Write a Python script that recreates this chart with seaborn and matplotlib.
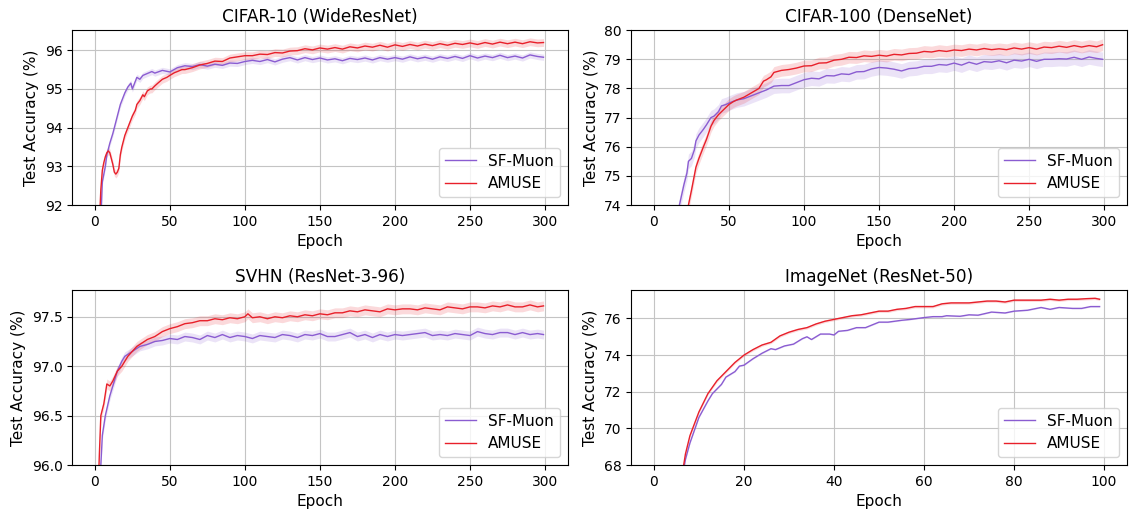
import numpy as np
import pandas as pd
import matplotlib
matplotlib.use("Agg")
import matplotlib.pyplot as plt
import seaborn as sns

# ---------------- data ----------------
# CIFAR-10 (WideResNet)
c10_sf_ep = [2, 4, 5, 7, 8, 10, 12, 13, 15, 17, 18, 20, 22, 23, 24, 25, 26, 27, 28, 30, 32, 35, 38, 40,
             45, 50, 55, 60, 65, 70, 75, 80, 85, 90, 95, 100, 105, 110, 115, 120, 125, 130, 135, 140, 145,
             150, 155, 160, 165, 170, 175, 180, 185, 190, 195, 200, 205, 210, 215, 220, 225, 230, 235, 240,
             245, 250, 255, 260, 265, 270, 275, 280, 285, 290, 295, 299]
c10_sf = [88.0, 91.6, 92.6, 93.0, 93.3, 93.6, 93.85, 94.0, 94.3, 94.6, 94.7, 94.9, 95.05, 95.1, 95.15, 95.0, 95.1, 95.2, 95.3, 95.25, 95.35, 95.4, 95.45, 95.41,
          95.48, 95.44, 95.55, 95.6, 95.58, 95.63, 95.59, 95.64, 95.61, 95.67, 95.66, 95.71, 95.74, 95.71, 95.76, 95.7, 95.77, 95.81, 95.75, 95.81, 95.76,
          95.8, 95.75, 95.78, 95.73, 95.79, 95.76, 95.8, 95.75, 95.81, 95.77, 95.81, 95.77, 95.83, 95.78, 95.82, 95.77, 95.83, 95.79, 95.84,
          95.79, 95.86, 95.8, 95.85, 95.81, 95.87, 95.81, 95.85, 95.8, 95.88, 95.84, 95.82]
c10_sf_sd = 0.08

c10_am_ep = [2, 3, 4, 5, 6, 7, 8, 9, 10, 11, 12, 13, 14, 15, 16, 17, 18, 20, 22, 23, 25, 27, 28, 30, 32, 33, 35, 37, 38, 40,
             42, 45, 48, 50, 53, 55, 58, 60, 65, 70, 75, 80, 85, 90, 95, 100, 105, 110, 115, 120, 125, 130, 135, 140, 145,
             150, 155, 160, 165, 170, 175, 180, 185, 190, 195, 200, 205, 210, 215, 220, 225, 230, 235, 240,
             245, 250, 255, 260, 265, 270, 275, 280, 285, 290, 295, 299]
c10_am = [88.0, 91.5, 92.4, 92.9, 93.1, 93.25, 93.35, 93.4, 93.35, 93.2, 93.05, 92.85, 92.8, 92.85, 92.95, 93.3, 93.5, 93.8, 94.0, 94.1, 94.3, 94.45, 94.6, 94.7, 94.85, 94.8, 94.95, 95.0, 95.0, 95.08,
          95.15, 95.25, 95.3, 95.35, 95.42, 95.45, 95.5, 95.5, 95.55, 95.62, 95.66, 95.72, 95.71, 95.8, 95.83, 95.86, 95.86, 95.9, 95.89, 95.94, 95.93, 95.98, 95.99, 96.04, 96.01,
          96.06, 96.03, 96.07, 96.03, 96.09, 96.06, 96.11, 96.08, 96.13, 96.08, 96.14, 96.1, 96.15, 96.11, 96.16, 96.12, 96.17, 96.13, 96.18,
          96.15, 96.19, 96.15, 96.2, 96.16, 96.21, 96.17, 96.21, 96.17, 96.22, 96.19, 96.2]
c10_am_sd = 0.1

# CIFAR-100 (DenseNet)
c100_sf_ep = [10, 15, 17, 20, 22, 23, 25, 27, 28, 30, 33, 35, 38, 40, 43, 45, 48, 50, 55, 60, 65, 70, 75, 80, 85, 90, 95,
              100, 105, 110, 115, 120, 125, 130, 135, 140, 145, 150, 155, 160, 165, 170, 175, 180, 185, 190, 195, 200,
              205, 210, 215, 220, 225, 230, 235, 240, 245, 250, 255, 260, 265, 270, 275, 280, 285, 290, 295, 299]
c100_sf = [71.5, 73.5, 74.0, 74.7, 75.1, 75.5, 75.6, 75.9, 76.2, 76.4, 76.6, 76.75, 77.0, 77.05, 77.2, 77.4, 77.45, 77.5, 77.6, 77.65, 77.75, 77.85, 77.95, 78.08, 78.1, 78.1, 78.2,
           78.3, 78.35, 78.33, 78.44, 78.43, 78.5, 78.48, 78.57, 78.58, 78.67, 78.72, 78.7, 78.66, 78.6, 78.68, 78.7, 78.76, 78.76, 78.82, 78.8, 78.87,
           78.8, 78.9, 78.83, 78.92, 78.9, 78.95, 78.88, 78.97, 78.94, 79.0, 78.93, 79.0, 79.0, 79.02, 79.01, 79.07, 79.0, 79.08, 79.03, 79.0]
c100_sf_sd = 0.25

c100_am_ep = [15, 20, 23, 25, 28, 30, 33, 35, 38, 40, 43, 45, 48, 50, 53, 55, 60, 65, 70, 73, 75, 78, 80, 85, 90, 95,
              100, 105, 110, 115, 120, 125, 130, 135, 140, 145, 150, 155, 160, 165, 170, 175, 180, 185, 190, 195, 200,
              205, 210, 215, 220, 225, 230, 235, 240, 245, 250, 255, 260, 265, 270, 275, 280, 285, 290, 295, 299]
c100_am = [71.0, 73.0, 74.0, 74.5, 75.3, 75.6, 76.0, 76.25, 76.7, 76.9, 77.1, 77.2, 77.35, 77.45, 77.55, 77.6, 77.7, 77.85, 78.0, 78.25, 78.3, 78.4, 78.55, 78.62, 78.65, 78.7,
           78.77, 78.78, 78.87, 78.88, 78.97, 79.0, 79.07, 79.06, 79.12, 79.1, 79.14, 79.11, 79.17, 79.15, 79.2, 79.21, 79.27, 79.25, 79.3, 79.27, 79.32,
           79.3, 79.35, 79.32, 79.37, 79.33, 79.36, 79.33, 79.39, 79.35, 79.4, 79.35, 79.42, 79.4, 79.45, 79.41, 79.47, 79.42, 79.47, 79.43, 79.5]
c100_am_sd = 0.2

# SVHN (ResNet-3-96)
svhn_sf_ep = [2, 4, 5, 7, 10, 13, 15, 18, 20, 22, 25, 28, 30, 35, 40, 45, 50, 55, 60, 65, 70, 75, 80, 85, 90, 95,
              100, 105, 110, 115, 120, 125, 130, 135, 140, 145, 150, 155, 160, 165, 170, 175, 180, 185, 190, 195, 200,
              205, 210, 215, 220, 225, 230, 235, 240, 245, 250, 255, 260, 265, 270, 275, 280, 285, 290, 295, 299]
svhn_sf = [95.3, 96.0, 96.3, 96.5, 96.7, 96.85, 96.95, 97.05, 97.1, 97.12, 97.15, 97.18, 97.2, 97.22, 97.25, 97.26, 97.28, 97.27, 97.3, 97.29, 97.27, 97.31, 97.29, 97.32, 97.29, 97.31,
           97.3, 97.28, 97.31, 97.3, 97.29, 97.32, 97.31, 97.29, 97.32, 97.31, 97.33, 97.3, 97.3, 97.32, 97.34, 97.3, 97.32, 97.29, 97.32, 97.3, 97.32,
           97.31, 97.32, 97.33, 97.34, 97.31, 97.32, 97.31, 97.33, 97.32, 97.31, 97.35, 97.33, 97.32, 97.34, 97.34, 97.32, 97.34, 97.32, 97.33, 97.32]
svhn_sf_sd = 0.045

svhn_am_ep = [1, 3, 4, 6, 8, 10, 12, 15, 18, 20, 22, 25, 28, 30, 35, 40, 45, 50, 55, 60, 65, 70, 75, 80, 85, 90, 95,
              100, 102, 105, 110, 115, 120, 125, 130, 135, 140, 145, 150, 155, 160, 165, 170, 175, 180, 185, 190, 195, 200,
              205, 210, 215, 220, 225, 230, 235, 240, 245, 250, 255, 260, 265, 270, 275, 280, 285, 290, 295, 299]
svhn_am = [95.2, 96.1, 96.5, 96.62, 96.82, 96.8, 96.85, 96.95, 97.0, 97.05, 97.1, 97.15, 97.2, 97.22, 97.27, 97.3, 97.35, 97.38, 97.4, 97.43, 97.44, 97.46, 97.46, 97.48, 97.47, 97.49, 97.48,
           97.5, 97.53, 97.49, 97.5, 97.48, 97.5, 97.49, 97.51, 97.5, 97.52, 97.51, 97.53, 97.52, 97.54, 97.54, 97.56, 97.55, 97.57, 97.56, 97.55, 97.58, 97.57,
           97.58, 97.58, 97.57, 97.59, 97.58, 97.57, 97.6, 97.59, 97.58, 97.6, 97.6, 97.59, 97.61, 97.6, 97.62, 97.6, 97.6, 97.62, 97.6, 97.61]
svhn_am_sd = 0.05

# ImageNet (ResNet-50)
in_sf_ep = [5, 7, 8, 10, 12, 13, 15, 16, 18, 19, 20, 22, 24, 26, 27, 29, 31, 33, 34, 35, 37, 39, 40, 41, 43, 45, 47, 48, 50,
            52, 55, 57, 60, 62, 64, 65, 68, 70, 72, 75, 78, 80, 83, 86, 88, 90, 93, 95, 97, 99]
in_sf = [65.5, 68.3, 69.2, 70.6, 71.5, 71.9, 72.4, 72.8, 73.1, 73.4, 73.45, 73.8, 74.1, 74.35, 74.3, 74.5, 74.6, 74.9, 75.0, 74.85, 75.15, 75.15, 75.1, 75.3, 75.35, 75.5, 75.5, 75.6, 75.8,
         75.8, 75.9, 75.95, 76.05, 76.1, 76.1, 76.15, 76.12, 76.2, 76.18, 76.35, 76.3, 76.4, 76.45, 76.6, 76.5, 76.6, 76.55, 76.55, 76.65, 76.65]
in_sf_sd = 0.03

in_am_ep = [5, 7, 8, 10, 12, 14, 16, 18, 20, 22, 24, 26, 28, 30, 32, 34, 36, 38, 40, 42, 44, 46, 48, 50, 52, 54, 56, 58,
            60, 62, 64, 66, 68, 70, 72, 74, 76, 78, 80, 82, 84, 86, 88, 90, 92, 94, 96, 98, 99]
in_am = [65.5, 68.6, 69.6, 70.9, 71.9, 72.6, 73.1, 73.6, 74.0, 74.3, 74.55, 74.7, 75.05, 75.25, 75.4, 75.5, 75.7, 75.85, 75.95, 76.05, 76.15, 76.2, 76.3, 76.4, 76.4, 76.5, 76.55, 76.65,
         76.65, 76.65, 76.8, 76.85, 76.85, 76.85, 76.9, 76.95, 76.95, 76.9, 77.0, 77.0, 77.0, 77.0, 77.05, 77.0, 77.05, 77.05, 77.08, 77.1, 77.05]
in_am_sd = 0.07

titles = ["CIFAR-10 (WideResNet)", "CIFAR-100 (DenseNet)", "SVHN (ResNet-3-96)", "ImageNet (ResNet-50)"]
series_names = ["SF-Muon", "AMUSE"]
ylims = [(92, 96.52), (74, 80), (96.0, 97.77), (68, 77.55)]
yticks = [[92, 93, 94, 95, 96], [74, 75, 76, 77, 78, 79, 80], [96.0, 96.5, 97.0, 97.5], [68, 70, 72, 74, 76]]
xticks = [[0, 50, 100, 150, 200, 250, 300]] * 3 + [[0, 20, 40, 60, 80, 100]]
xlims = [(-15, 315)] * 3 + [(-5, 105)]

panels = [
    [(c10_sf_ep, c10_sf, c10_sf_sd), (c10_am_ep, c10_am, c10_am_sd)],
    [(c100_sf_ep, c100_sf, c100_sf_sd), (c100_am_ep, c100_am, c100_am_sd)],
    [(svhn_sf_ep, svhn_sf, svhn_sf_sd), (svhn_am_ep, svhn_am, svhn_am_sd)],
    [(in_sf_ep, in_sf, in_sf_sd), (in_am_ep, in_am, in_am_sd)],
]
colors = ["#8a5cd1", "#e8202a"]

# ---------------- plotting ----------------
fig, axes = plt.subplots(2, 2, figsize=(11.3, 5.11), dpi=100)
fig.subplots_adjust(left=0.064, right=0.997, top=0.941, bottom=0.09, wspace=0.129, hspace=0.486)

for ax, title, panel, yl, yt, xt, xl in zip(axes.flat, titles, panels, ylims, yticks, xticks, xlims):
    for (ep, val, sd), name, col in zip(panel, series_names, colors):
        df = pd.DataFrame({"Epoch": ep, "acc": val})
        ax.fill_between(df["Epoch"], df["acc"] - sd, df["acc"] + sd, color=col, alpha=0.17, linewidth=0)
        sns.lineplot(data=df, x="Epoch", y="acc", ax=ax, color=col, linewidth=1.0, label=name)
    ax.set_title(title, fontsize=12.2)
    ax.set_xlabel("Epoch", fontsize=11)
    ax.set_ylabel("Test Accuracy (%)", fontsize=11)
    ax.set_ylim(*yl)
    ax.set_xlim(*xl)
    ax.set_yticks(yt)
    ax.set_xticks(xt)
    ax.tick_params(labelsize=10)
    ax.grid(True, color="#c4c4c4", linewidth=0.8)
    ax.set_axisbelow(True)
    ax.legend(loc="lower right", fontsize=11)

fig.savefig("out.png", dpi=100)
